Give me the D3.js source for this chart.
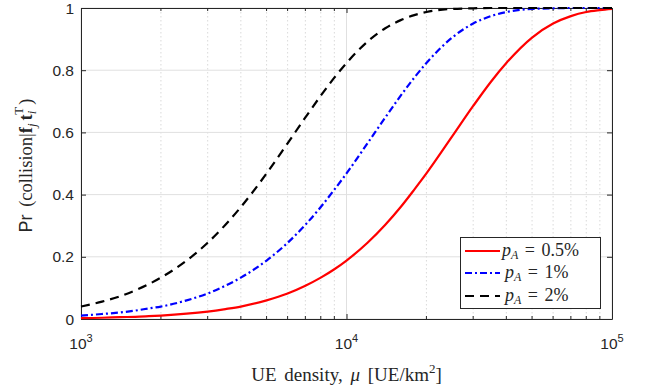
<!DOCTYPE html>
<html>
<head>
<meta charset="utf-8">
<script src="https://cdn.jsdelivr.net/npm/d3@7"></script>
<style>
  html, body { margin: 0; padding: 0; background: #fff; }
  svg { display: block; }
</style>
</head>
<body>
<svg id="chart" width="649" height="392"></svg>
<script>
// ---- data ----
const muGrid = [1000,1200,1400,1600,1800,2000,2500,3000,3500,4000,5000,6000,7000,8000,9000,
                10000,12000,14000,16000,18000,20000,25000,30000,35000,40000,50000,60000,70000,80000,90000,100000];
const pA05 = [0.003,0.004,0.006,0.007,0.009,0.011,0.017,0.024,0.032,0.040,0.060,0.082,0.107,0.133,0.160,
              0.188,0.245,0.303,0.360,0.416,0.468,0.587,0.685,0.763,0.823,0.905,0.950,0.974,0.987,0.993,0.997];
const pA1  = [0.011,0.016,0.021,0.027,0.034,0.040,0.060,0.082,0.107,0.133,0.188,0.245,0.303,0.360,0.416,
              0.468,0.565,0.648,0.718,0.776,0.823,0.905,0.950,0.974,0.987,0.997,0.999,1.000,1.000,1.000,1.000];
const pA2  = [0.040,0.056,0.073,0.092,0.112,0.133,0.188,0.245,0.303,0.360,0.468,0.565,0.648,0.718,0.776,
              0.823,0.892,0.935,0.961,0.977,0.987,0.997,0.999,1.000,1.000,1.000,1.000,1.000,1.000,1.000,1.000];
const seriesNames = ["0.5%","1%","2%"];
const yTicks = [0,0.2,0.4,0.6,0.8,1];
const yTickLabels = ["0","0.2","0.4","0.6","0.8","1"];
const xMajor = [1e3,1e4,1e5];
const xMajorExp = ["3","4","5"];

const svg = d3.select("#chart");
const L = 81, R = 612, T = 8, B = 319;
const x = d3.scaleLog().domain([1e3,1e5]).range([L,R]);
const y = d3.scaleLinear().domain([0,1]).range([B,T]);
const axisColor = "#262626";

// grid
const xMinor = x.ticks().filter(v => !xMajor.includes(v));
const g = svg.append("g");
g.selectAll(".minor").data(xMinor).enter().append("line")
  .attr("x1", d=>x(d)).attr("x2", d=>x(d)).attr("y1", T).attr("y2", B)
  .attr("stroke", "#d0d0d0").attr("stroke-width", 0.8).attr("stroke-dasharray", "1.5,2.5");
g.selectAll(".vmaj").data(xMajor).enter().append("line")
  .attr("x1", d=>x(d)).attr("x2", d=>x(d)).attr("y1", T).attr("y2", B)
  .attr("stroke", "#e0e0e0").attr("stroke-width", 1);
g.selectAll(".hmaj").data(yTicks).enter().append("line")
  .attr("x1", L).attr("x2", R).attr("y1", d=>y(d)).attr("y2", d=>y(d))
  .attr("stroke", "#e0e0e0").attr("stroke-width", 1);

// axes
function styleAxis(sel){
  sel.selectAll("path").attr("stroke", axisColor).attr("stroke-width", 1);
  sel.selectAll("line").attr("stroke", axisColor).attr("stroke-width", 1);
  sel.selectAll("text").remove();
}
svg.append("g").attr("transform", `translate(0,${B})`)
  .call(d3.axisBottom(x).tickValues(xMajor).tickSizeInner(-5).tickSizeOuter(0).tickFormat(""))
  .call(styleAxis);
svg.append("g").attr("transform", `translate(0,${T})`)
  .call(d3.axisTop(x).tickValues(xMajor).tickSizeInner(-5).tickSizeOuter(0).tickFormat(""))
  .call(styleAxis);
svg.append("g").attr("transform", `translate(${L},0)`)
  .call(d3.axisLeft(y).tickValues(yTicks).tickSizeInner(-5).tickSizeOuter(0).tickFormat(""))
  .call(styleAxis);
svg.append("g").attr("transform", `translate(${R},0)`)
  .call(d3.axisRight(y).tickValues(yTicks).tickSizeInner(-5).tickSizeOuter(0).tickFormat(""))
  .call(styleAxis);
// minor x ticks (bottom and top)
svg.append("g").selectAll("line").data(xMinor).enter().append("line")
  .attr("x1", d=>x(d)).attr("x2", d=>x(d)).attr("y1", B).attr("y2", B-3)
  .attr("stroke", axisColor);
svg.append("g").selectAll("line").data(xMinor).enter().append("line")
  .attr("x1", d=>x(d)).attr("x2", d=>x(d)).attr("y1", T).attr("y2", T+3)
  .attr("stroke", axisColor);

// tick labels
svg.append("g").selectAll("text").data(yTicks).enter().append("text")
  .attr("x", L-7).attr("y", d=>y(d)+5.5).attr("text-anchor","end")
  .attr("font-family","Liberation Sans, Arial, sans-serif").attr("font-size",15.5)
  .attr("fill", axisColor).text((d,i)=>yTickLabels[i]);
const xl = svg.append("g").selectAll("text").data(xMajor).enter().append("text")
  .attr("x", d=>x(d)).attr("y", 349).attr("text-anchor","middle")
  .attr("font-family","Liberation Sans, Arial, sans-serif").attr("font-size",15.5)
  .attr("fill", axisColor);
xl.append("tspan").text("10");
xl.append("tspan").attr("dy",-7).attr("font-size",11).text((d,i)=>xMajorExp[i]);

// axis titles
const xt = svg.append("text").attr("x", (L+R)/2).attr("y", 381).attr("text-anchor","middle")
  .attr("font-family","Liberation Serif, Times New Roman, serif").attr("font-size",19)
  .attr("word-spacing", 3).attr("fill", axisColor);
xt.append("tspan").text("UE density, ");
xt.append("tspan").attr("font-style","italic").text("μ");
xt.append("tspan").text(" [UE/km");
xt.append("tspan").attr("dy",-8).attr("font-size",13).text("2");
xt.append("tspan").attr("dy",8).text("]");

const yt = svg.append("text").attr("transform", `translate(32,${(T+B)/2 + 2}) rotate(-90)`)
  .attr("text-anchor","middle")
  .attr("font-family","Liberation Serif, Times New Roman, serif").attr("font-size",18.5).attr("fill", axisColor);
yt.append("tspan").attr("font-family","Liberation Sans, Arial, sans-serif").attr("font-size",18).text("Pr");
yt.append("tspan").attr("dx",3).text(" (collision|");
yt.append("tspan").attr("font-weight","bold").text("f");
yt.append("tspan").attr("font-style","italic").attr("font-size",13).attr("dy",4).text("j");
yt.append("tspan").attr("font-weight","bold").attr("dy",-4).attr("dx",3).text("t");
yt.append("tspan").attr("font-style","italic").attr("font-size",13).attr("dy",4).text("i");
yt.append("tspan").attr("font-size",13).attr("dy",-13).attr("dx",-4).text("T");
yt.append("tspan").attr("dy",9).attr("dx",2).text(")");

// lines
const series = [
  {vals: pA05, color: "#ff0000", dash: null},
  {vals: pA1,  color: "#0000ff", dash: "7,3,2,3"},
  {vals: pA2,  color: "#000000", dash: "9,6"}
];
const line = d3.line().x(d=>x(d[0])).y(d=>y(d[1])).curve(d3.curveMonotoneX);
series.forEach(s => {
  svg.append("path").datum(muGrid.map((m,i)=>[m, s.vals[i]]))
    .attr("d", line).attr("fill","none").attr("stroke", s.color)
    .attr("stroke-width", 2.2).attr("stroke-dasharray", s.dash);
});

// legend
const lg = svg.append("g");
lg.append("rect").attr("x",460.5).attr("y",237.5).attr("width",140).attr("height",71)
  .attr("fill","#fff").attr("stroke", axisColor).attr("stroke-width",1);
const rowY = [251, 273, 296];
series.forEach((s,i) => {
  lg.append("line").attr("x1",465).attr("x2",500).attr("y1",rowY[i]).attr("y2",rowY[i])
    .attr("stroke", s.color).attr("stroke-width",2.2).attr("stroke-dasharray", s.dash);
  const t = lg.append("text").attr("x", i===0 ? 502 : 505).attr("y", rowY[i]+5)
    .attr("font-family","Liberation Serif, Times New Roman, serif").attr("font-size",18)
    .attr("word-spacing", 2).attr("fill", axisColor);
  t.append("tspan").attr("font-style","italic").text("p");
  t.append("tspan").attr("font-style","italic").attr("font-size",12).attr("dy",3).text("A");
  t.append("tspan").attr("dy",-3).text(" = " + seriesNames[i]);
});
</script>
</body>
</html>
